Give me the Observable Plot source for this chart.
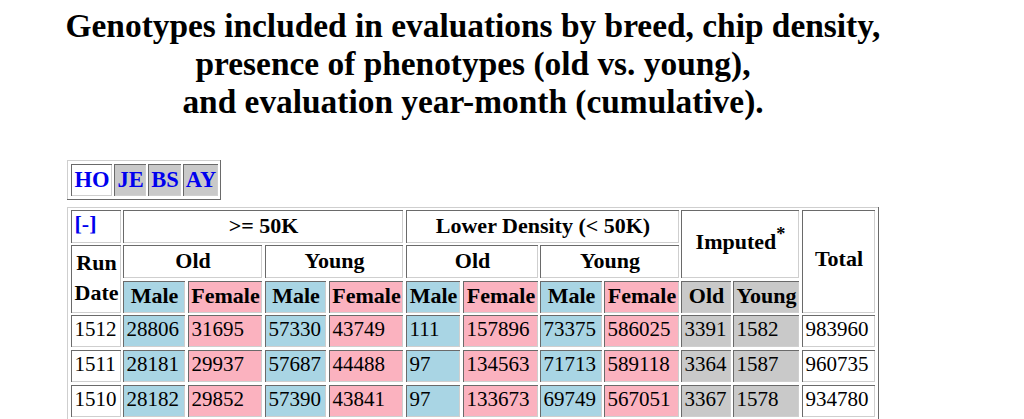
<!DOCTYPE html>
<html><head><meta charset="utf-8">
<script src="https://cdn.jsdelivr.net/npm/d3@7"></script>
<script src="https://cdn.jsdelivr.net/npm/@observablehq/plot@0.6"></script>
<style>
html,body{margin:0;padding:0;background:#fff;}
#title{width:946px;height:150px;margin:0;padding-top:7px;box-sizing:border-box;text-align:center;
  font:bold 33.4px/38px "Liberation Serif","Times New Roman",serif;color:#000;}
#chart svg{display:block;}
</style></head><body>
<div id="title">Genotypes included in evaluations by breed, chip density,<br>presence of phenotypes (old vs. young),<br>and evaluation year-month (cumulative).</div>
<div id="chart"></div>
<script>
// ---- data ----
const breeds = ["HO", "JE", "BS", "AY"];
const selectedBreed = "HO";
const toggleLabel = "[-]";
const densityGroups = [">= 50K", "Lower Density (< 50K)"];
const ageGroups = ["Old", "Young"];
const sexes = ["Male", "Female"];
const imputedLabel = "Imputed";
const imputedGroups = ["Old", "Young"];
const totalLabel = "Total";
const runDateLabel = ["Run", "Date"];
const runDates = ["1512", "1511", "1510"];
const hdOldMale = [28806, 28181, 28182];
const hdOldFemale = [31695, 29937, 29852];
const hdYoungMale = [57330, 57687, 57390];
const hdYoungFemale = [43749, 44488, 43841];
const ldOldMale = [111, 97, 97];
const ldOldFemale = [157896, 134563, 133673];
const ldYoungMale = [73375, 71713, 69749];
const ldYoungFemale = [586025, 589118, 567051];
const imputedOld = [3391, 3364, 3367];
const imputedYoung = [1582, 1587, 1578];
const totals = [983960, 960735, 934780];

// ---- layout (pixels) ----
const W = 1024, H = 269;
const colEdges = [[71,120],[123,184],[188,261],[265,325],[329,402],[406,459],[463,537],[540,601],[604,678],[681,730],[733,798],[802,874]];
const rowEdges = [[60,92],[95,127],[131,162],[165,196],[200,231],[235,266]];
const tabEdges = [[71,111],[114,145],[148,180],[183,217]];
const tabRow = [14, 45];
const FS = 21;      // body cells
const HFS = 22;     // header cells
const BLUE = "#0000ee";

function cell(c0, c1, r0, r1, text, kind, opts = {}) {
  return {x1: colEdges[c0][0], x2: colEdges[c1][1] + 1, y1: rowEdges[r0][0], y2: rowEdges[r1][1] + 1,
          text, kind, align: "middle", ...opts};
}
const headCells = [];
headCells.push(cell(0,0,0,0,toggleLabel,"Plain",{align:"start", blue:true}));
densityGroups.forEach((d, i) => headCells.push(cell(1+i*4, 4+i*4, 0, 0, d, "Plain")));
const impCell = cell(9,10,0,1,"", "Plain");
headCells.push(impCell);
headCells.push(cell(11,11,0,2,totalLabel,"Plain",{dy:-1.5}));
headCells.push(cell(0,0,1,2,runDateLabel.join("\n"),"Plain"));
densityGroups.forEach((d, i) => ageGroups.forEach((a, j) => {
  const c = 1 + i*4 + j*2;
  headCells.push(cell(c, c+1, 1, 1, a, "Plain"));
  sexes.forEach((s, k) => headCells.push(cell(c+k, c+k, 2, 2, s, s)));
}));
imputedGroups.forEach((g, k) => headCells.push(cell(9+k, 9+k, 2, 2, g, "Gray")));

const series = [
  [hdOldMale,"Male"],[hdOldFemale,"Female"],[hdYoungMale,"Male"],[hdYoungFemale,"Female"],
  [ldOldMale,"Male"],[ldOldFemale,"Female"],[ldYoungMale,"Male"],[ldYoungFemale,"Female"],
  [imputedOld,"Gray"],[imputedYoung,"Gray"],[totals,"Plain"]
];
const dataCells = [];
runDates.forEach((rd, i) => {
  dataCells.push(cell(0,0,3+i,3+i, rd, "Plain", {align:"start"}));
  series.forEach(([vals, kind], s) => dataCells.push(cell(1+s,1+s,3+i,3+i, String(vals[i]), kind, {align:"start"})));
});
const tabCells = breeds.map((b, i) => ({x1: tabEdges[i][0], x2: tabEdges[i][1] + 1, y1: tabRow[0], y2: tabRow[1] + 1,
  text: b, kind: b === selectedBreed ? "Plain" : "Gray", align: "middle", tab: true}));

const allCells = [...tabCells, ...headCells, ...dataCells];
const tx = d => d.align === "start" ? d.x1 + 3 : (d.x1 + d.x2) / 2;
const ty = d => (d.y1 + d.y2) / 2 + (d.dy || 0);

// inset cell borders
const dark = [], light = [];
for (const d of allCells) {
  light.push({x1: d.x1, x2: d.x2, y1: d.y2 - 1, y2: d.y2});
  light.push({x1: d.x2 - 1, x2: d.x2, y1: d.y1, y2: d.y2});
  dark.push({x1: d.x1, x2: d.x2, y1: d.y1, y2: d.y1 + 1});
  dark.push({x1: d.x1, x2: d.x1 + 1, y1: d.y1, y2: d.y2});
}
// outset outer borders
const tableBox = {x1: 67, x2: 879, y1: 57, y2: 290};
const tabBox = {x1: 67, x2: 221, y1: 10, y2: 50};
for (const b of [tableBox, tabBox]) {
  light.push({x1: b.x1, x2: b.x2, y1: b.y1, y2: b.y1 + 1});
  light.push({x1: b.x1, x2: b.x1 + 1, y1: b.y1, y2: b.y2});
  dark.push({x1: b.x1, x2: b.x2, y1: b.y2 - 1, y2: b.y2});
  dark.push({x1: b.x2 - 1, x2: b.x2, y1: b.y1, y2: b.y2});
}

// superscript asterisk after "Imputed"
const ctx = document.createElement("canvas").getContext("2d");
ctx.font = `bold ${HFS}px "Liberation Serif"`;
const impW = ctx.measureText(imputedLabel).width;
ctx.font = `bold ${HFS*0.83}px "Liberation Serif"`;
const astW = ctx.measureText("*").width;
const impStart = (impCell.x1 + impCell.x2) / 2 - (impW + astW) / 2;
const imputedText = [{x: impStart, y: ty(impCell), text: imputedLabel}];
const asteriskText = [{x: impStart + impW, y: ty(impCell) - 7, text: "*"}];

const blueCells = allCells.filter(d => d.blue || d.tab);
const boldCells = headCells.filter(d => !d.blue && d.text);

const chart = Plot.plot({
  width: W, height: H, margin: 0,
  x: {domain: [0, W], range: [0, W], axis: null},
  y: {domain: [0, H], range: [0, H], axis: null},
  color: {domain: ["Male", "Female", "Gray", "Plain"], range: ["#a9d5e4", "#fbb2bf", "#c9c9c9", "#ffffff"]},
  style: {fontFamily: "'Liberation Serif', 'Times New Roman', serif", background: "#fff", overflow: "hidden"},
  marks: [
    Plot.rect(allCells, {x1: "x1", x2: "x2", y1: "y1", y2: "y2", fill: "kind", shapeRendering: "crispEdges"}),
    Plot.rect(light, {x1: "x1", x2: "x2", y1: "y1", y2: "y2", fill: "#cfcfcf", shapeRendering: "crispEdges"}),
    Plot.rect(dark, {x1: "x1", x2: "x2", y1: "y1", y2: "y2", fill: "#6a6a6a", shapeRendering: "crispEdges"}),
    Plot.text(boldCells, {x: tx, y: ty, text: "text", textAnchor: "middle", fontSize: HFS, fontWeight: "bold",
      fill: "#000", lineAnchor: "middle", lineHeight: 1.38, dy: -4}),
    Plot.text(blueCells, {x: tx, y: ty, text: "text", textAnchor: "start", fontSize: HFS, fontWeight: "bold",
      fill: BLUE, lineAnchor: "middle", dy: -3, filter: d => d.align === "start"}),
    Plot.text(blueCells, {x: tx, y: ty, text: "text", fontSize: 22.5, fontWeight: "bold",
      fill: BLUE, lineAnchor: "middle", dy: -1, filter: d => d.align === "middle"}),
    Plot.text(imputedText, {x: "x", y: "y", text: "text", textAnchor: "start", fontSize: HFS, fontWeight: "bold", fill: "#000", lineAnchor: "middle", dy: -3}),
    Plot.text(asteriskText, {x: "x", y: "y", text: "text", textAnchor: "start", fontSize: HFS*0.83, fontWeight: "bold", fill: "#000", lineAnchor: "middle", dy: -3}),
    Plot.text(dataCells, {x: tx, y: ty, text: "text", textAnchor: "start", fontSize: FS, fill: "#000", lineAnchor: "middle", dy: -2})
  ]
});
document.getElementById("chart").appendChild(chart);
</script>
</body></html>
